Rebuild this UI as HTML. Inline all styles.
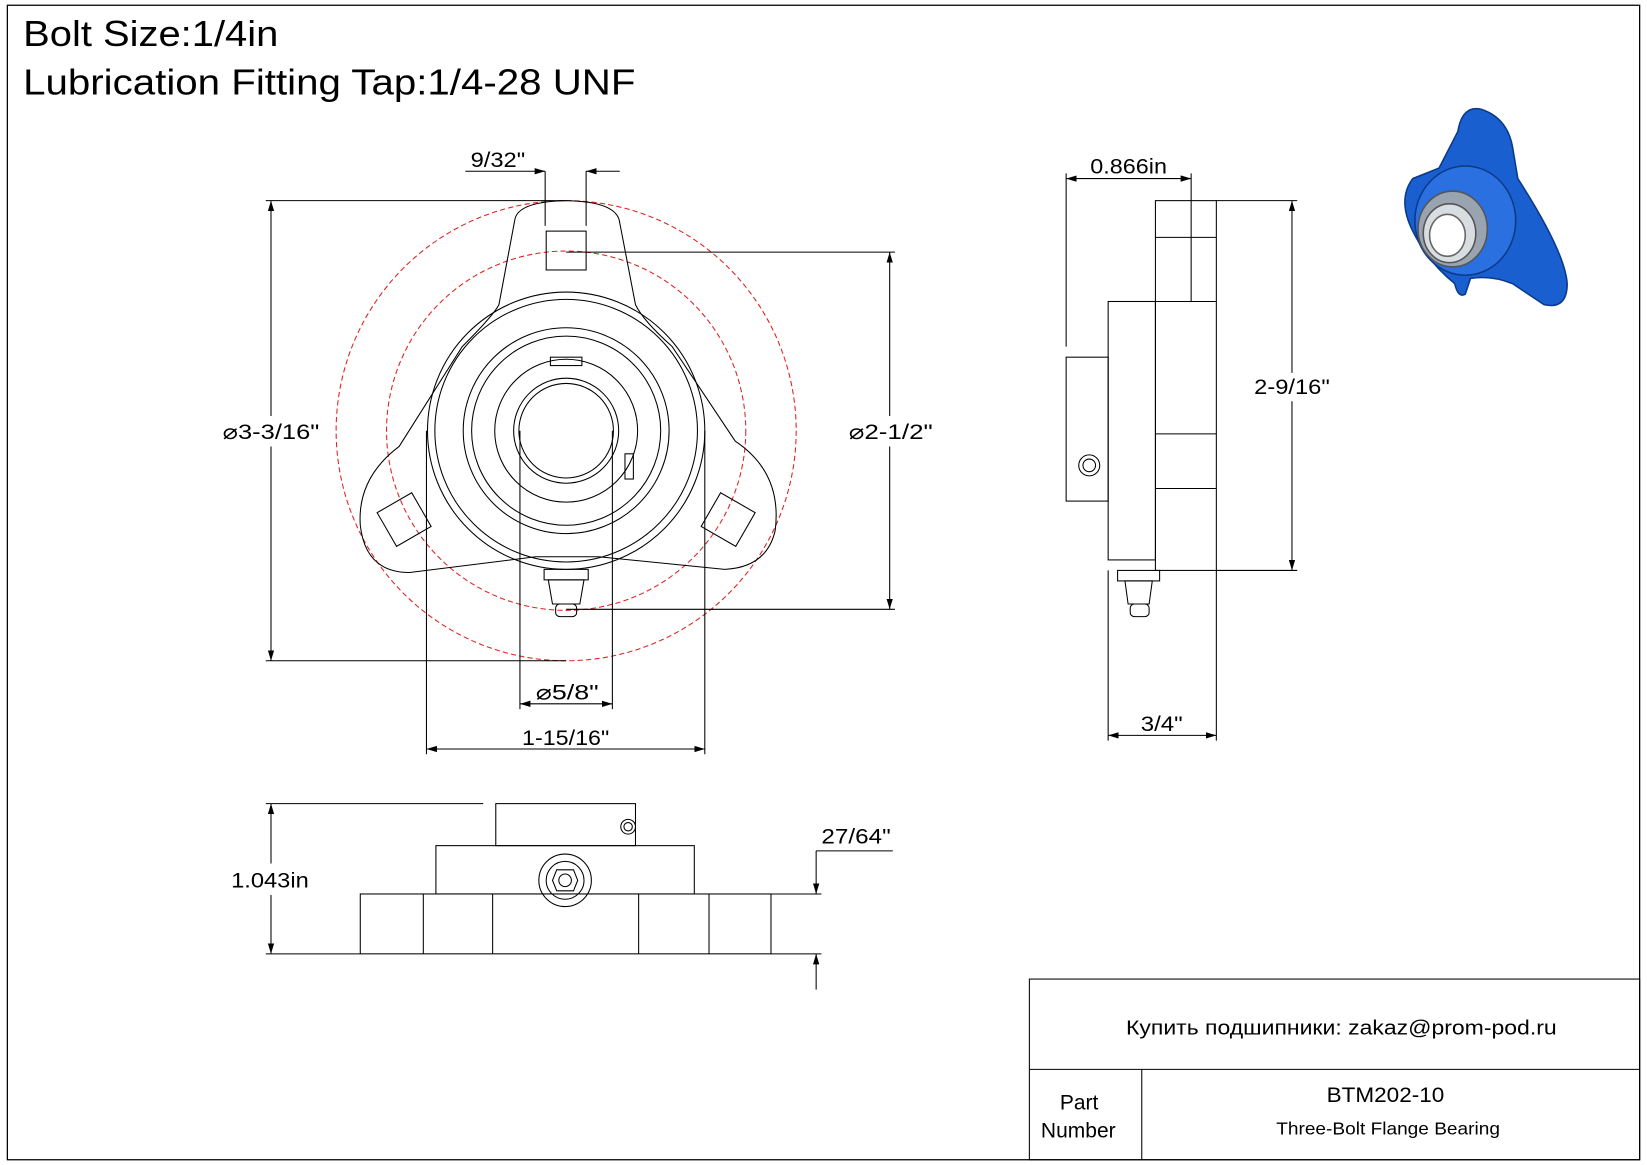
<!DOCTYPE html>
<html><head><meta charset="utf-8"><style>
html,body{margin:0;padding:0;background:#fff;}
svg{display:block;}
text{font-family:"Liberation Sans",sans-serif;fill:#000;}
</style></head><body>
<svg width="1647" height="1165" viewBox="0 0 1568 1109" preserveAspectRatio="none" xmlns="http://www.w3.org/2000/svg">
<defs>
<marker id="a" viewBox="0 0 10 10" refX="10" refY="5" markerWidth="10" markerHeight="10" orient="auto-start-reverse" markerUnits="userSpaceOnUse"><path d="M0,2 L10,5 L0,8 Z" fill="#000"/></marker>
</defs>
<rect x="7" y="5" width="1554" height="1099" fill="none" stroke="#000" stroke-width="1.2"/>
<text x="22" y="44" font-size="34" textLength="243" lengthAdjust="spacingAndGlyphs">Bolt Size:1/4in</text>
<text x="22" y="90" font-size="34" textLength="583" lengthAdjust="spacingAndGlyphs">Lubrication Fitting Tap:1/4-28 UNF</text>

<g fill="none" stroke="#000" stroke-width="1">
<circle cx="539" cy="410" r="219" stroke="#e02020" stroke-dasharray="5,3"/>
<circle cx="539" cy="410" r="171" stroke="#e02020" stroke-dasharray="5,3"/>
<path d="M490,210 Q492,192 539,191 Q588,192 590,212 L605,290 Q612,305 640,330 L700,420 Q745,450 738,505 Q730,540 690,542 L570,530 L510,530 L390,545 Q348,545 343,500 Q340,455 380,425 L440,330 Q470,300 475,290 Z"/>
<circle cx="539" cy="410" r="132"/>
<circle cx="539" cy="410" r="125"/>
<circle cx="539" cy="410" r="98"/>
<circle cx="539" cy="410" r="90"/>
<circle cx="539" cy="410" r="68"/>
<circle cx="539" cy="410" r="50"/>
<circle cx="539" cy="410" r="45"/>
<rect x="520" y="220" width="38" height="37"/>
<rect x="366" y="476" width="38" height="37" transform="rotate(-30 385 495)"/>
<rect x="674" y="476" width="38" height="37" transform="rotate(30 693 495)"/>
<rect x="524" y="340" width="30" height="8"/>
<rect x="595" y="432" width="8" height="24"/>
<rect x="518" y="542" width="42" height="10"/>
<path d="M522,552 L556,552 L552,575 L526,575 Z"/>
<rect x="529" y="575" width="20" height="12" rx="4"/>
<line x1="519" y1="163" x2="519" y2="215"/><line x1="558" y1="163" x2="558" y2="215"/>
<line x1="443" y1="163" x2="519" y2="163" marker-end="url(#a)"/>
<line x1="590" y1="163" x2="558" y2="163" marker-end="url(#a)"/>
<line x1="253" y1="191" x2="539" y2="191"/><line x1="253" y1="629" x2="539" y2="629"/>
<line x1="258" y1="191" x2="258" y2="396" marker-start="url(#a)"/><line x1="258" y1="425" x2="258" y2="629" marker-end="url(#a)"/>
<line x1="539" y1="240" x2="852" y2="240"/><line x1="539" y1="580" x2="852" y2="580"/>
<line x1="847" y1="240" x2="847" y2="396" marker-start="url(#a)"/><line x1="847" y1="425" x2="847" y2="580" marker-end="url(#a)"/>
<line x1="495" y1="410" x2="495" y2="675"/><line x1="583" y1="410" x2="583" y2="675"/>
<line x1="495" y1="670" x2="583" y2="670" marker-start="url(#a)" marker-end="url(#a)"/>
<line x1="406" y1="410" x2="406" y2="718"/><line x1="671" y1="410" x2="671" y2="718"/>
<line x1="406" y1="713" x2="671" y2="713" marker-start="url(#a)" marker-end="url(#a)"/>

<rect x="1100" y="191" width="58" height="352"/>
<line x1="1100" y1="226" x2="1158" y2="226"/><line x1="1100" y1="287" x2="1158" y2="287"/>
<line x1="1100" y1="413" x2="1158" y2="413"/><line x1="1100" y1="465" x2="1158" y2="465"/>
<rect x="1055" y="287" width="45" height="246"/>
<rect x="1015" y="340" width="40" height="137"/>
<circle cx="1037" cy="443" r="10"/><circle cx="1037" cy="443" r="6"/>
<rect x="1064" y="543" width="40" height="10"/>
<path d="M1071,553 L1097,553 L1094,575 L1074,575 Z"/>
<rect x="1076" y="575" width="18" height="12" rx="4"/>
<line x1="1015" y1="165" x2="1015" y2="330"/><line x1="1134" y1="165" x2="1134" y2="287"/>
<line x1="1015" y1="170" x2="1134" y2="170" marker-start="url(#a)" marker-end="url(#a)"/>
<line x1="1158" y1="191" x2="1235" y2="191"/><line x1="1158" y1="543" x2="1235" y2="543"/>
<line x1="1230" y1="191" x2="1230" y2="355" marker-start="url(#a)"/><line x1="1230" y1="382" x2="1230" y2="543" marker-end="url(#a)"/>
<line x1="1055" y1="543" x2="1055" y2="705"/><line x1="1158" y1="543" x2="1158" y2="705"/>
<line x1="1055" y1="700" x2="1158" y2="700" marker-start="url(#a)" marker-end="url(#a)"/>

<rect x="343" y="851" width="391" height="57"/>
<line x1="403" y1="851" x2="403" y2="908"/><line x1="469" y1="851" x2="469" y2="908"/>
<line x1="608" y1="851" x2="608" y2="908"/><line x1="675" y1="851" x2="675" y2="908"/>
<rect x="415" y="805" width="246" height="46"/>
<rect x="472" y="765" width="133" height="40"/>
<circle cx="598" cy="787" r="7"/><circle cx="598" cy="787" r="4"/>
<circle cx="538" cy="838" r="25"/><circle cx="538" cy="838" r="18"/>
<path d="M530,828 L546,828 L550,838 L546,848 L530,848 L526,838 Z"/>
<circle cx="538" cy="838" r="6"/>
<line x1="253" y1="765" x2="460" y2="765"/><line x1="253" y1="908" x2="343" y2="908"/>
<line x1="258" y1="765" x2="258" y2="822" marker-start="url(#a)"/><line x1="258" y1="852" x2="258" y2="908" marker-end="url(#a)"/>
<line x1="734" y1="851" x2="782" y2="851"/><line x1="734" y1="908" x2="782" y2="908"/>
<line x1="777" y1="810" x2="777" y2="851" marker-end="url(#a)"/>
<line x1="777" y1="942" x2="777" y2="908" marker-end="url(#a)"/>
<line x1="777" y1="810" x2="850" y2="810"/>

<rect x="980" y="932" width="581" height="172"/>
<line x1="980" y1="1018" x2="1561" y2="1018"/>
<line x1="1087" y1="1018" x2="1087" y2="1104"/>
</g>

<g font-size="20">
<text x="448" y="159" textLength="52" lengthAdjust="spacingAndGlyphs">9/32"</text>
<text x="212" y="418" textLength="92" lengthAdjust="spacingAndGlyphs">⌀3-3/16"</text>
<text x="808" y="418" textLength="80" lengthAdjust="spacingAndGlyphs">⌀2-1/2"</text>
<text x="510" y="666" textLength="60" lengthAdjust="spacingAndGlyphs">⌀5/8"</text>
<text x="497" y="709" textLength="83" lengthAdjust="spacingAndGlyphs">1-15/16"</text>
<text x="1038" y="165" textLength="73" lengthAdjust="spacingAndGlyphs">0.866in</text>
<text x="1194" y="375" textLength="72" lengthAdjust="spacingAndGlyphs">2-9/16"</text>
<text x="1086" y="696" textLength="40" lengthAdjust="spacingAndGlyphs">3/4"</text>
<text x="220" y="845" textLength="74" lengthAdjust="spacingAndGlyphs">1.043in</text>
<text x="782" y="803" textLength="66" lengthAdjust="spacingAndGlyphs">27/64"</text>
</g>
<text x="1072" y="985" font-size="19" textLength="410" lengthAdjust="spacingAndGlyphs">Купить подшипники: zakaz@prom-pod.ru</text>
<text x="1009" y="1056" font-size="20">Part</text>
<text x="991" y="1083" font-size="20">Number</text>
<text x="1263" y="1049" font-size="20" textLength="112" lengthAdjust="spacingAndGlyphs">BTM202-10</text>
<text x="1215" y="1080" font-size="17" textLength="213" lengthAdjust="spacingAndGlyphs">Three-Bolt Flange Bearing</text>

<g stroke="#0a3a8a" stroke-width="1.5">
<path d="M1388,125 Q1392,100 1410,104 Q1435,112 1440,140 L1445,170 Q1490,240 1492,270 Q1492,295 1470,290 L1440,270 Q1420,262 1400,265 L1395,280 Q1388,284 1385,270 Q1360,250 1345,220 Q1330,190 1345,170 L1370,160 Z" fill="#1a5fd0"/>
<ellipse cx="1395" cy="210" rx="48" ry="52" fill="#2a70e0"/>
<ellipse cx="1383" cy="218" rx="33" ry="36" fill="#9aa4b0" stroke="#555"/>
<ellipse cx="1380" cy="222" rx="25" ry="28" fill="#d8dde2" stroke="#555"/>
<ellipse cx="1378" cy="224" rx="17" ry="20" fill="#fff" stroke="#666"/>
</g>
</svg>
</body></html>
